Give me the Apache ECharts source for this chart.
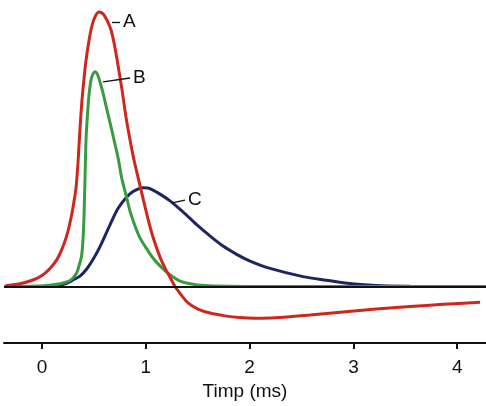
<!DOCTYPE html>
<html>
<head>
<meta charset="utf-8">
<script src="https://cdn.jsdelivr.net/npm/echarts@6/dist/echarts.min.js"></script>
<style>
html,body{margin:0;padding:0;background:#fff;}
#chart{width:486px;height:406px;}
</style>
</head>
<body>
<div id="chart"></div>
<script>
// time axis (ms)
const xMin = -0.366, xMax = 4.277;
const tickValues = [0, 1, 2, 3, 4];
const axisTitle = 'Timp (ms)';

// Curve A (red): [time, value]
const curveA = [
  [-0.356,0],[-0.337,0.35],[-0.212,1.0],[-0.087,2.3],[0.0,3.9],[0.077,6.4],[0.145,9.6],[0.202,14.1],
  [0.25,19.5],[0.289,26],[0.308,30.1],[0.328,35],[0.347,43.9],[0.366,55.9],[0.385,65.8],
  [0.405,73.6],[0.424,80],[0.453,87.1],[0.482,92.4],[0.515,95.8],[0.549,97.2],[0.588,96.5],
  [0.626,94.3],[0.665,90.8],[0.698,85.5],[0.732,78.4],[0.771,69.6],[0.809,60],[0.848,51.9],
  [0.886,44.8],[0.954,34.2],[1.012,25.3],[1.069,17.5],[1.137,10.4],[1.195,5.8],[1.233,3.3],
  [1.281,0],[1.329,-2.4],[1.407,-5.8],[1.503,-8],[1.618,-9.4],[1.763,-10.4],[1.9,-11],
  [2.05,-11.25],[2.25,-11.1],[2.582,-10.1],[2.9,-9],[3.218,-8],[3.545,-7.1],[3.863,-6.3],[4.22,-5.6]
];
// Curve B (green)
const curveB = [
  [-0.356,0],[-0.116,0.07],[0.077,0.46],[0.173,0.96],[0.241,1.6],[0.289,2.65],[0.334,4.8],
  [0.359,7.6],[0.381,10.8],[0.395,16.5],[0.405,25.3],[0.414,37.7],[0.424,51.9],[0.438,60.7],
  [0.453,67.8],[0.472,73.1],[0.491,75.2],[0.511,76],[0.535,75],[0.559,72.4],[0.588,68.5],
  [0.626,62.5],[0.665,56.5],[0.703,50.4],[0.737,44.8],[0.768,38.4],[0.809,32.4],[0.848,26.7],
  [0.896,21.4],[0.944,17.2],[1.009,13.3],[1.069,10.1],[1.137,7.3],[1.201,5.1],[1.262,3.4],
  [1.329,1.9],[1.426,1.0],[1.57,0.35],[1.811,0.07],[2.1,0],[3.0,0],[4.277,0]
];
// Curve C (navy)
const curveC = [
  [-0.356,0],[0.077,0.04],[0.145,0.18],[0.238,1.13],[0.299,2.3],[0.366,3.7],[0.431,6.2],
  [0.494,9.7],[0.559,14.1],[0.655,21.8],[0.732,27.6],[0.816,31.7],[0.877,33.6],[0.925,34.5],
  [0.973,35],[1.021,34.9],[1.06,34.3],[1.137,32.7],[1.233,30.3],[1.358,26.4],[1.493,21.8],
  [1.618,17.9],[1.744,14.3],[1.879,11.3],[2.004,9],[2.197,6.4],[2.514,3.5],[2.775,2.05],
  [2.9,1.3],[3.218,0.35],[3.545,0.07],[3.93,0],[4.277,0]
];
// label leader lines: [start, end] in data coords
const leaderA = [[0.674,93.6],[0.751,93.6]];
const leaderB = [[0.588,72.4],[0.848,73.8]];
const leaderC = [[1.252,29.6],[1.378,30.6]];

const FONT = '"Liberation Sans", Arial, sans-serif';

function leader(seg, text) {
  return {
    silent: true,
    symbol: 'none',
    lineStyle: { color: '#111', width: 1.3, type: 'solid' },
    label: { show: true, position: 'end', distance: 3, formatter: text,
             color: '#111', fontSize: 19, fontFamily: FONT },
    emphasis: { disabled: true },
    data: [[{ coord: seg[0] }, { coord: seg[1] }]]
  };
}

function curve(name, data, color, seg, text) {
  return {
    name: name, type: 'line', data: data, showSymbol: false, symbol: 'none',
    smooth: 0.3,
    lineStyle: { color: color, width: 3 },
    itemStyle: { color: color },
    emphasis: { disabled: true },
    animation: false,
    markLine: leader(seg, text)
  };
}

const chart = echarts.init(document.getElementById('chart'), null, { renderer: 'canvas' });
chart.setOption({
  animation: false,
  backgroundColor: '#fff',
  grid: { left: 4, right: 0, top: 4, bottom: 63 },
  xAxis: {
    type: 'value', min: xMin, max: xMax,
    name: axisTitle, nameLocation: 'middle', nameGap: 39,
    nameTextStyle: { color: '#111', fontSize: 19, fontFamily: FONT },
    axisLine: { show: true, onZero: false, lineStyle: { color: '#111', width: 2 } },
    axisTick: { show: true, customValues: tickValues, length: 6, lineStyle: { color: '#111', width: 2 } },
    axisLabel: { show: true, customValues: tickValues, margin: 15, color: '#111', fontSize: 19, fontFamily: FONT },
    splitLine: { show: false }
  },
  yAxis: { type: 'value', min: -20, max: 100, show: false, splitLine: { show: false } },
  series: [
    {
      name: 'baseline', type: 'line', data: [],
      markLine: {
        silent: true, symbol: 'none', label: { show: false },
        lineStyle: { color: '#111', width: 2, type: 'solid' },
        data: [{ yAxis: 0 }]
      }
    },
    curve('C', curveC, '#1f2462', leaderC, 'C'),
    curve('B', curveB, '#3a9a3e', leaderB, 'B'),
    curve('A', curveA, '#d0271d', leaderA, 'A')
  ]
});
</script>
</body>
</html>
